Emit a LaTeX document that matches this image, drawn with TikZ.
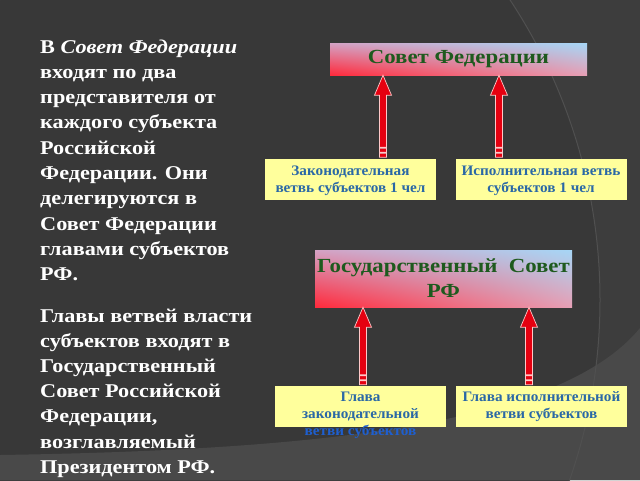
\documentclass[tikz,border=0pt]{standalone}
\usepackage{fontspec}
\setmainfont{Liberation Serif}
\newfontfamily\widefont[FakeStretch=1.14]{Liberation Serif}
\newfontfamily\midfont[FakeStretch=1.05]{Liberation Serif}
\usetikzlibrary{calc,shadings}
\definecolor{bg}{HTML}{383838}
\definecolor{bgband}{HTML}{3D3D3D}
\definecolor{bglow}{HTML}{494949}
\definecolor{arcline}{HTML}{505050}
\definecolor{arrred}{HTML}{E50010}
\definecolor{arrline}{HTML}{FFC8C8}
\definecolor{ybox}{HTML}{FFFF9C}
\definecolor{btext}{HTML}{2A68A6}
\definecolor{btext2}{HTML}{1E5FD0}
\definecolor{gtext}{HTML}{1E5A1E}
\definecolor{gred}{HTML}{FF2A3C}
\definecolor{gblue}{HTML}{A6D6F6}
\definecolor{gmauve}{HTML}{D4A2C4}
\definecolor{gpink}{HTML}{E6A0B6}
\newcommand\redarrow[2]{%
  \path let \p1=(#1), \p2=(#2) in
   [fill=arrred, draw=arrline, line width=0.7pt]
   (\x1-3.5pt,\y1+11pt) -- (\x1-3.5pt,\y2-20pt) -- (\x1-8.5pt,\y2-20pt) -- (\x2,\y2)
   -- (\x1+8.5pt,\y2-20pt) -- (\x1+3.5pt,\y2-20pt) -- (\x1+3.5pt,\y1+11pt) -- cycle
   (\x1-3.5pt,\y1+1pt) rectangle (\x1+3.5pt,\y1+5pt)
   (\x1-3.5pt,\y1+6pt) rectangle (\x1+3.5pt,\y1+10pt);
}
\tikzset{
  lefttext/.style={anchor=base west, inner sep=0pt, text=white,
    font=\widefont\fontsize{19.5}{23}\selectfont\bfseries},
  gbox/.style={inner sep=0pt, lower left=gred, upper right=gblue,
    upper left=gmauve, lower right=gpink, text=gtext,
    font=\widefont\fontsize{20}{25}\selectfont\bfseries, align=center},
  ybx/.style={fill=ybox, inner sep=0pt, minimum width=171pt, minimum height=41pt},
  ytext/.style={text=btext, inner sep=0pt, align=center, anchor=base,
    font=\midfont\fontsize{14.5}{17}\selectfont\bfseries},
}
\begin{document}
\begin{tikzpicture}[x=1pt,y=-1pt]
\useasboundingbox (0,0) rectangle (640,480);
\fill[bg] (0,0) rectangle (640,480);
\begin{scope}
  \clip (0,0) rectangle (640,480);
  \fill[bgband, even odd rule] (0,0) rectangle (640,480) (55,300) circle[radius=545pt];
  \fill[bglow] (0,455) .. controls (320,450) and (560,425) .. (640,328) -- (640,480) -- (0,480) -- cycle;
  \draw[arcline, line width=1pt] (55,300) circle[radius=545pt];
\end{scope}

% left text
\node[lefttext] (l1) at (40,53) {В \textit{Совет Федерации}};
\node[lefttext] (l2) at (40,78.3) {входят по два};
\node[lefttext] (l3) at (40,103.6) {представителя от};
\node[lefttext] (l4) at (40,128.9) {каждого субъекта};
\node[lefttext] (l5) at (40,154.2) {Российской};
\node[lefttext] (l6) at (40,179.5) {Федерации. Они};
\node[lefttext] (l7) at (40,204.8) {делегируются в};
\node[lefttext] (l8) at (40,230.1) {Совет Федерации};
\node[lefttext] (l9) at (40,255.4) {главами субъектов};
\node[lefttext] (l10) at (40,280.7) {РФ.};
\node[lefttext] (l11) at (40,322) {Главы ветвей власти};
\node[lefttext] (l12) at (40,347.2) {субъектов входят в};
\node[lefttext] (l13) at (40,372.4) {Государственный};
\node[lefttext] (l14) at (40,397.6) {Совет Российской};
\node[lefttext] (l15) at (40,422.8) {Федерации,};
\node[lefttext] (l16) at (40,448) {возглавляемый};
\node[lefttext] (l17) at (40,473.2) {Президентом РФ.};

% top group
\node[gbox, minimum width=257pt, minimum height=32pt] (sf) at (458.5,59) {Совет Федерации};
\node[ybx] (yb1) at (350.5,179) {};
\node[ybx] (yb2) at (541,179) {};
\node[ytext] (yt1) at (350.5,192) {Законодательная\\ветвь субъектов 1 чел};
\node[ytext] (yt2) at (541,192) {Исполнительная ветвь\\субъектов 1 чел};
\redarrow{383,0 |- yb1.north}{383,0 |- sf.south}
\redarrow{499,0 |- yb2.north}{499,0 |- sf.south}

% bottom group
\node[gbox, minimum width=257pt, minimum height=57pt] (gs) at (443.5,278.5) {Государственный \ Совет\\РФ};
\node[ybx] (yb3) at (360.5,406.5) {};
\node[ybx] (yb4) at (541.5,406.5) {};
\node[ytext] (yt3) at (360.5,435) {Глава\\законодательной\\\textcolor{btext2}{ветви субъектов}};
\node[ytext] (yt4) at (541.5,418) {Глава исполнительной\\ветви субъектов};
\redarrow{363,0 |- yb3.north}{363,0 |- gs.south}
\redarrow{529,0 |- yb4.north}{529,0 |- gs.south}
\end{tikzpicture}
\end{document}
